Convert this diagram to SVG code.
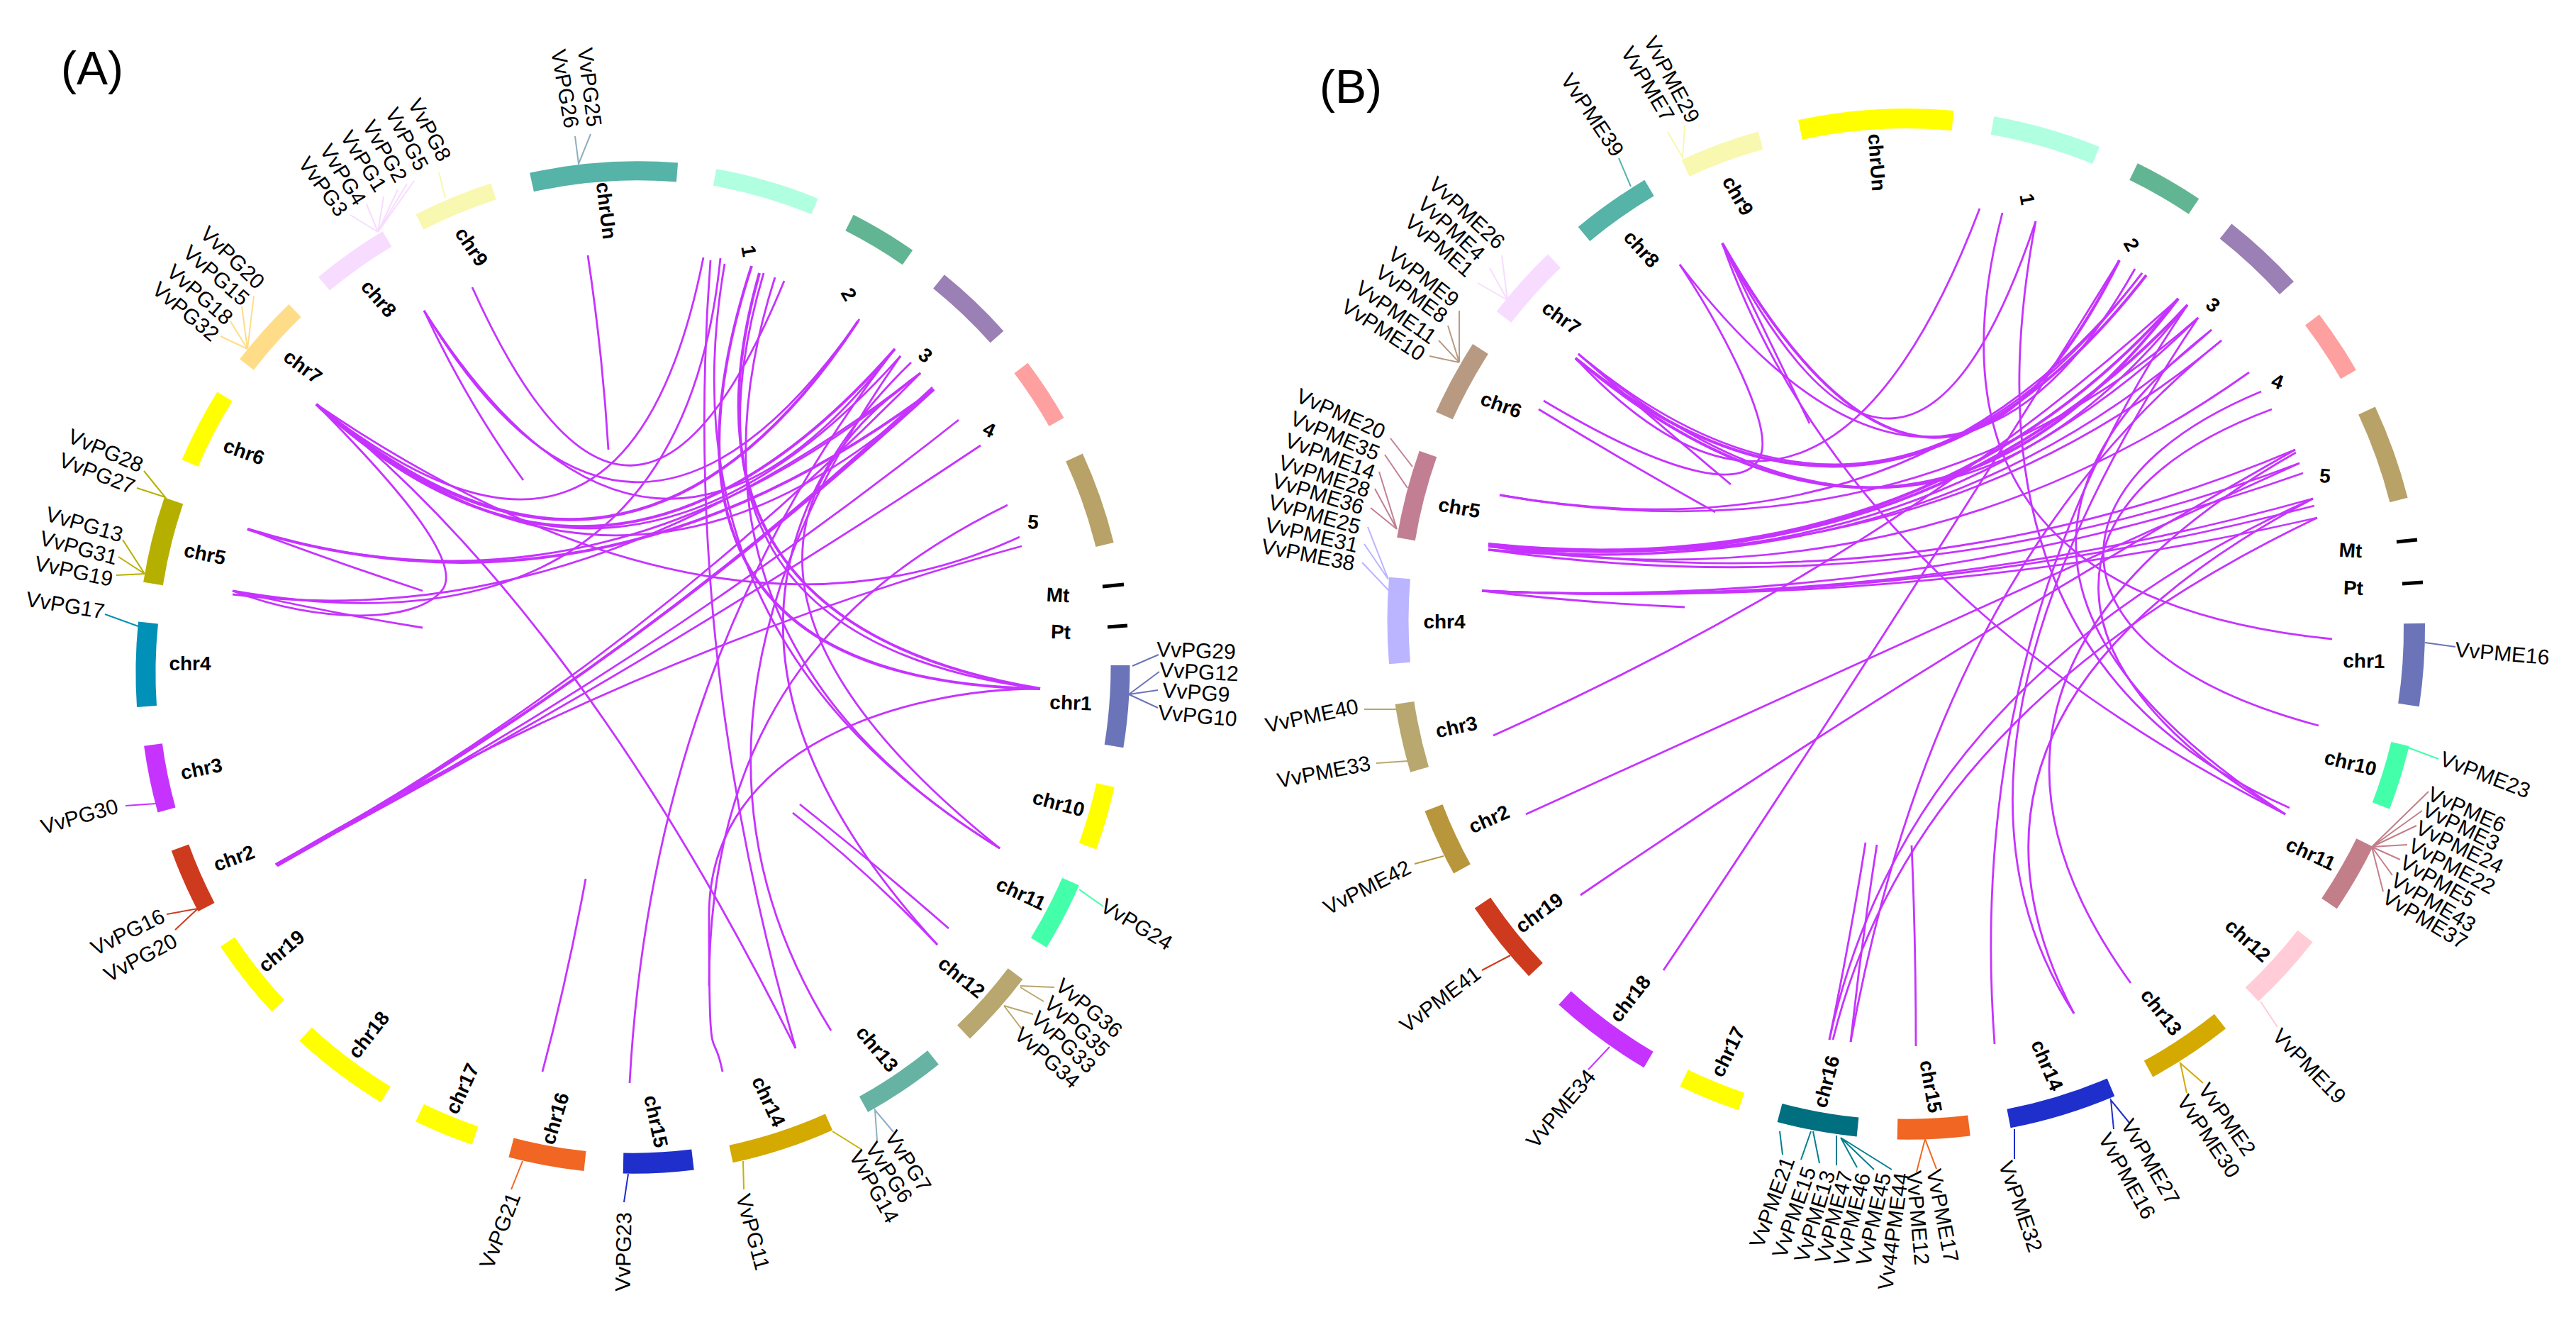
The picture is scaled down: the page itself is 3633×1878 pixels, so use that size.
<svg xmlns="http://www.w3.org/2000/svg" width="3633" height="1878" viewBox="0 0 3633 1878">
<style>
text{font-family:"Liberation Sans",Arial,sans-serif;fill:#000;text-anchor:middle;dominant-baseline:central}
.t{font-size:66px}
.c{font-size:28px;font-weight:bold}
.g{font-size:30px}
.s{fill:none}
.l{fill:none;stroke-width:2}
#linksA path,#linksB path{fill:none;stroke:#C633FF;stroke-width:2.8}
.h{stroke-width:4!important}
</style>
<rect width="3633" height="1878" fill="#fff"/>
<text class="t" x="130" y="96">(A)</text>
<text class="t" x="1905" y="122">(B)</text>
<g id="linksA">
<path d="M829 360Q850 500 858 634"/>
<path d="M666 405Q894 912 1106 396"/>
<path d="M598 438Q886 914 1210 453"/>
<path d="M598 438Q920 940 1262 492"/>
<path d="M598 438Q660 570 738 677"/>
<path d="M446 570Q882 918 992 363"/>
<path class="h" d="M446 570Q885 945 1210 453"/>
<path d="M450 575Q885 945 1212 450"/>
<path class="h" d="M446 570Q860 950 1262 492"/>
<path d="M448 572Q870 950 1270 502"/>
<path d="M446 570Q880 950 1317 549"/>
<path d="M446 570Q1012 954 1438 757"/>
<path d="M446 570C560 685 650 790 625 830C590 880 450 880 328 833"/>
<path d="M446 570Q815 860 1122 1478"/>
<path class="h" d="M349 746Q850 900 1317 549"/>
<path d="M349 746Q850 900 1298 526"/>
<path d="M349 746Q480 795 596 833"/>
<path d="M328 833Q470 865 596 885"/>
<path d="M328 833Q958 942 1016 364"/>
<path d="M328 838Q818 900 1298 526"/>
<path class="h" d="M389 1219Q880 950 1317 549"/>
<path d="M391 1221Q880 950 1315 546"/>
<path d="M389 1219Q880 950 1298 526"/>
<path d="M389 1219Q900 950 1352 592"/>
<path d="M389 1219Q900 950 1383 628"/>
<path d="M389 1219Q890 920 1441 770"/>
<path class="h" d="M1060 375Q870 960 1467 971"/>
<path class="h" d="M1071 385Q930 880 1467 971"/>
<path d="M1077 385Q925 900 1467 971"/>
<path d="M1022 372Q930 900 1410 1196"/>
<path d="M1093 391Q930 900 1410 1196"/>
<path d="M1298 526Q916 800 1410 1196"/>
<path d="M1285 511Q906 878 1322 1332"/>
<path d="M1270 502Q904 1022 1172 1453"/>
<path d="M1002 367Q960 920 1122 1478"/>
<path d="M888 1527Q920 930 1262 492"/>
<path d="M1421 712C1200 820 1000 1000 1000 1390"/>
<path d="M1467 971C1280 971 1000 1050 1000 1290S1005 1440 1019 1511"/>
<path d="M1128 1134Q1230 1215 1338 1309"/>
<path d="M1118 1146Q1220 1225 1322 1332"/>
<path d="M826 1239Q800 1380 765 1511"/>
</g>
<g id="linksB">
<path class="h" d="M2429 343Q2734 878 2989 367"/>
<path d="M2429 343Q2490 470 2552 597"/>
<path d="M2429 343Q2600 830 3223 1148"/>
<path d="M2871 312Q2690 852 2429 343"/>
<path d="M2369 373Q2742 856 3011 379"/>
<path d="M2369 373C2432 468 2500 600 2483 642C2465 690 2370 680 2177 565"/>
<path d="M2226 499Q2330 590 2441 683"/>
<path d="M2170 577Q2290 650 2419 722"/>
<path d="M2792 294Q2570 878 2222 505"/>
<path d="M2824 300Q2684 840 3289 901"/>
<path d="M2871 312Q2754 930 3229 1139"/>
<path d="M3204 577C2870 700 2880 950 3223 1148"/>
<path d="M3189 552C2880 680 2880 920 3270 1023"/>
<path d="M3119 465Q2690 800 3223 1148"/>
<path class="h" d="M2222 505Q2660 860 3027 388"/>
<path d="M2226 499Q2660 860 3021 385"/>
<path class="h" d="M2222 505Q2704 908 3072 421"/>
<path d="M2226 499Q2704 908 3085 430"/>
<path d="M2115 698Q2700 800 3100 448"/>
<path d="M2115 698Q2700 800 3021 385"/>
<path class="h" d="M2099 767Q2714 830 3072 421"/>
<path class="h" d="M2099 770Q2714 830 3085 430"/>
<path d="M2099 775Q2714 830 3119 465"/>
<path d="M2099 767Q2714 830 3133 480"/>
<path d="M2099 775Q2714 830 3100 448"/>
<path d="M2099 770Q2700 860 3172 525"/>
<path d="M2099 767Q2700 860 3237 634"/>
<path d="M2099 775Q2700 860 3243 653"/>
<path d="M2090 833Q2700 860 3248 667"/>
<path d="M2090 833Q2700 860 3262 703"/>
<path d="M2090 833Q2700 860 3264 713"/>
<path d="M2090 833Q2700 860 3268 730"/>
<path d="M2090 833Q2230 850 2376 856"/>
<path d="M2106 1037Q2680 780 3072 421"/>
<path d="M2152 1148Q2702 900 3243 653"/>
<path d="M2229 1262Q2728 922 3237 634"/>
<path d="M2346 1368Q2652 912 2989 367"/>
<path d="M2580 1466Q2610 1320 2631 1188"/>
<path d="M2610 1469Q2625 1330 2647 1191"/>
<path d="M2580 1466Q2690 960 3262 703"/>
<path d="M2585 1466Q2700 1000 3268 730"/>
<path d="M2610 1469Q2732 800 3133 480"/>
<path d="M2696 1192Q2702 1330 2702 1475"/>
<path d="M2813 1472Q2770 890 3085 430"/>
<path d="M2925 1429Q2688 1062 3100 448"/>
<path d="M2925 1429Q2700 1000 3262 703"/>
<path d="M3005 1386Q2690 950 3238 638"/>
</g>
<g id="A-chrUn"><path class="s" stroke="#55B3A8" stroke-width="27" d="M750 257A695 695 0 0 1 955 243"/><text class="c" transform="translate(855 297) rotate(83)">chrUn</text><path class="l" stroke="#8FAFC0" d="M811 192L816 231L833 189"/><text class="g" transform="translate(832 123) rotate(83)">VvPG25</text><text class="g" transform="translate(797 125) rotate(80)">VvPG26</text></g>
<g id="A-chr9"><path class="s" stroke="#F8F8B0" stroke-width="24" d="M592 313A695 695 0 0 1 696 270"/><text class="c" transform="translate(665 348) rotate(56)">chr9</text><path class="l" stroke="#F8F8B0" d="M619 243L628 279"/></g>
<g id="A-chr8"><path class="s" stroke="#F8DCFF" stroke-width="25" d="M457 400A695 695 0 0 1 546 337"/><text class="c" transform="translate(534 421) rotate(49)">chr8</text><path class="l" stroke="#F8DCFF" d="M533 327L584 255M533 327L574 259M533 327L561 267M533 327L541 277M533 327L517 288M533 327L494 303"/><text class="g" transform="translate(606 183) rotate(62)">VvPG8</text><text class="g" transform="translate(574 196) rotate(62)">VvPG5</text><text class="g" transform="translate(543 213) rotate(60)">VvPG2</text><text class="g" transform="translate(513 227) rotate(58)">VvPG1</text><text class="g" transform="translate(484 246) rotate(58)">VvPG4</text><text class="g" transform="translate(456 263) rotate(54)">VvPG3</text></g>
<g id="A-chr7"><path class="s" stroke="#FFDD88" stroke-width="25" d="M348 514A695 695 0 0 1 416 438"/><text class="c" transform="translate(427 517) rotate(37)">chr7</text><path class="l" stroke="#FFDD88" d="M349 492L358 417M349 492L341 432M349 492L325 453M349 492L311 474"/><text class="g" transform="translate(328 363) rotate(44)">VvPG20</text><text class="g" transform="translate(305 388) rotate(41)">VvPG15</text><text class="g" transform="translate(282 415) rotate(41)">VvPG18</text><text class="g" transform="translate(262 439) rotate(40)">VvPG32</text></g>
<g id="A-chr6"><path class="s" stroke="#FFFF00" stroke-width="25" d="M268 653A695 695 0 0 1 317 559"/><text class="c" transform="translate(344 637) rotate(20)">chr6</text></g>
<g id="A-chr5"><path class="s" stroke="#B5B000" stroke-width="28" d="M216 823A695 695 0 0 1 245 706"/><text class="c" transform="translate(289 781) rotate(12)">chr5</text><path class="l" stroke="#B5B000" d="M203 664L233 701L193 688M173 761L204 809L167 785M204 809L164 811"/><text class="g" transform="translate(149 635) rotate(23)">VvPG28</text><text class="g" transform="translate(137 667) rotate(21)">VvPG27</text><text class="g" transform="translate(119 739) rotate(16)">VvPG13</text><text class="g" transform="translate(111 772) rotate(15)">VvPG31</text><text class="g" transform="translate(104 805) rotate(12)">VvPG19</text></g>
<g id="A-chr4"><path class="s" stroke="#0090B8" stroke-width="28" d="M209 878A695 695 0 0 0 207 996"/><text class="c" x="268" y="935">chr4</text><path class="l" stroke="#0090B8" d="M148 866L195 883"/><text class="g" transform="translate(92 853) rotate(9.500)">VvPG17</text></g>
<g id="A-chr3"><path class="s" stroke="#C633FF" stroke-width="26" d="M216 1050A695 695 0 0 0 235 1142"/><text class="c" transform="translate(284 1084) rotate(-12)">chr3</text><path class="l" stroke="#C633FF" d="M177 1136L220 1133"/><text class="g" transform="translate(112 1151) rotate(-16)">VvPG30</text></g>
<g id="A-chr2"><path class="s" stroke="#CE3A1E" stroke-width="26" d="M254 1195A695 695 0 0 0 291 1279"/><text class="c" transform="translate(330 1210) rotate(-20)">chr2</text><path class="l" stroke="#CE3A1E" d="M235 1289L279 1281L247 1311"/><text class="g" transform="translate(180 1314) rotate(-26)">VvPG16</text><text class="g" transform="translate(198 1350) rotate(-28)">VvPG20</text></g>
<g id="A-chr19"><path class="s" stroke="#FFFF00" stroke-width="24" d="M321 1328A695 695 0 0 0 392 1418"/><text class="c" transform="translate(397 1341) rotate(-40)">chr19</text></g>
<g id="A-chr18"><path class="s" stroke="#FFFF00" stroke-width="26" d="M431 1458A695 695 0 0 0 544 1543"/><text class="c" transform="translate(520 1459) rotate(-52)">chr18</text></g>
<g id="A-chr17"><path class="s" stroke="#FFFF00" stroke-width="27" d="M592 1569A695 695 0 0 0 670 1601"/><text class="c" transform="translate(652 1535) rotate(-65)">chr17</text></g>
<g id="A-chr16"><path class="s" stroke="#F06622" stroke-width="28" d="M721 1618A695 695 0 0 0 825 1637"/><text class="c" transform="translate(783 1577) rotate(-73)">chr16</text><path class="l" stroke="#F06622" d="M721 1677L737 1637"/><text class="g" transform="translate(705 1735) rotate(-69)">VvPG21</text></g>
<g id="A-chr15"><path class="s" stroke="#1F2FCC" stroke-width="29" d="M879 1640A695 695 0 0 0 977 1635"/><text class="c" transform="translate(925 1581) rotate(78)">chr15</text><path class="l" stroke="#1F2FCC" d="M880 1695L886 1655"/><text class="g" transform="translate(879 1765) rotate(-89)">VvPG23</text></g>
<g id="A-chr14"><path class="s" stroke="#D4AA00" stroke-width="25" d="M1031 1627A695 695 0 0 0 1169 1582"/><text class="c" transform="translate(1084 1553) rotate(65)">chr14</text><path class="l" stroke="#C8B000" d="M1049 1677L1048 1637M1214 1620L1174 1595"/><text class="g" transform="translate(1062 1737) rotate(75)">VvPG11</text><text class="g" transform="translate(1233 1673) rotate(61)">VvPG14</text></g>
<g id="A-chr13"><path class="s" stroke="#66B3A3" stroke-width="25" d="M1218 1557A695 695 0 0 0 1316 1491"/><text class="c" transform="translate(1237 1479) rotate(50)">chr13</text><path class="l" stroke="#8FAFC0" d="M1260 1596L1234 1565L1237 1608"/><text class="g" transform="translate(1254 1653) rotate(57)">VvPG6</text><text class="g" transform="translate(1281 1637) rotate(58)">VvPG7</text></g>
<g id="A-chr12"><path class="s" stroke="#B8A76E" stroke-width="26" d="M1359 1455A695 695 0 0 0 1432 1373"/><text class="c" transform="translate(1356 1378) rotate(39)">chr12</text><path class="l" stroke="#B8A76E" d="M1439 1390L1487 1392M1439 1392L1472 1412M1416 1418L1457 1430M1416 1418L1441 1451"/><text class="g" transform="translate(1477 1491) rotate(42)">VvPG34</text><text class="g" transform="translate(1500 1469) rotate(43)">VvPG33</text><text class="g" transform="translate(1519 1447) rotate(42)">VvPG35</text><text class="g" transform="translate(1536 1421) rotate(40)">VvPG36</text></g>
<g id="A-chr11"><path class="s" stroke="#44FFAA" stroke-width="26" d="M1465 1329A695 695 0 0 0 1510 1243"/><text class="c" transform="translate(1440 1260) rotate(25)">chr11</text><path class="l" stroke="#44FFAA" d="M1522 1254L1556 1278"/><text class="g" transform="translate(1603 1303) rotate(31)">VvPG24</text></g>
<g id="A-chr10"><path class="s" stroke="#FFFF00" stroke-width="26" d="M1534 1193A695 695 0 0 0 1559 1107"/><text class="c" transform="translate(1493 1133) rotate(15)">chr10</text></g>
<g id="A-chr1"><path class="s" stroke="#6B74B8" stroke-width="27" d="M1571 1052A695 695 0 0 0 1580 938"/><text class="c" transform="translate(1510 991) rotate(2)">chr1</text><path class="l" stroke="#6B74B8" d="M1597 939L1634 923M1592 979L1635 947M1592 979L1633 973M1592 979L1633 998"/><text class="g" transform="translate(1687 917) rotate(2)">VvPG29</text><text class="g" transform="translate(1691 947) rotate(3)">VvPG12</text><text class="g" transform="translate(1687 976) rotate(4)">VvPG9</text><text class="g" transform="translate(1689 1009) rotate(5)">VvPG10</text></g>
<g id="A-1"><path class="s" stroke="#B0FFE0" stroke-width="24" d="M1008 250A695 695 0 0 1 1149 291"/><text class="c" transform="translate(1056 354) rotate(80)">1</text></g>
<g id="A-2"><path class="s" stroke="#62B592" stroke-width="25" d="M1198 314A695 695 0 0 1 1280 363"/><text class="c" transform="translate(1197 415) rotate(60)">2</text></g>
<g id="A-3"><path class="s" stroke="#9A80B5" stroke-width="25" d="M1324 397A695 695 0 0 1 1406 475"/><text class="c" transform="translate(1305 501) rotate(40)">3</text></g>
<g id="A-4"><path class="s" stroke="#FFA0A0" stroke-width="24" d="M1440 519A695 695 0 0 1 1490 595"/><text class="c" transform="translate(1395 606) rotate(25)">4</text></g>
<g id="A-5"><path class="s" stroke="#B8A268" stroke-width="26" d="M1515 645A695 695 0 0 1 1558 768"/><text class="c" transform="translate(1457 736) rotate(5)">5</text></g>
<g id="A-Mt"><path class="s" stroke="#000" stroke-width="5" d="M1555 827L1585 824"/><text class="c" transform="translate(1492 839) rotate(3)">Mt</text></g>
<g id="A-Pt"><path class="s" stroke="#000" stroke-width="5" d="M1562 884L1590 882"/><text class="c" transform="translate(1496 891) rotate(2)">Pt</text></g>

<g id="B-chrUn"><path class="s" stroke="#FFFF00" stroke-width="28" d="M2539 183A715 715 0 0 1 2754 170"/><text class="c" transform="translate(2647 229) rotate(86)">chrUn</text></g>
<g id="B-chr9"><path class="s" stroke="#F8F8B0" stroke-width="26" d="M2377 237A715 715 0 0 1 2483 198"/><text class="c" transform="translate(2451 276) rotate(60)">chr9</text><path class="l" stroke="#F8F8B0" d="M2352 186L2373 222L2376 177"/><text class="g" transform="translate(2358 112) rotate(62)">VvPME29</text><text class="g" transform="translate(2324 118) rotate(59)">VvPME7</text></g>
<g id="B-chr8"><path class="s" stroke="#55B3A8" stroke-width="26" d="M2234 330A715 715 0 0 1 2326 265"/><text class="c" transform="translate(2315 351) rotate(48)">chr8</text><path class="l" stroke="#55B3A8" d="M2283 223L2300 263"/><text class="g" transform="translate(2246 162) rotate(56)">VvPME39</text></g>
<g id="B-chr7"><path class="s" stroke="#F8DCFF" stroke-width="26" d="M2121 447A715 715 0 0 1 2192 368"/><text class="c" transform="translate(2202 448) rotate(36)">chr7</text><path class="l" stroke="#F8DCFF" d="M2126 423L2118 360M2126 423L2101 378M2126 423L2084 399"/><text class="g" transform="translate(2069 300) rotate(43)">VvPME26</text><text class="g" transform="translate(2047 322) rotate(43)">VvPME4</text><text class="g" transform="translate(2030 346) rotate(41)">VvPME1</text></g>
<g id="B-chr6"><path class="s" stroke="#B89A83" stroke-width="26" d="M2037 586A715 715 0 0 1 2088 492"/><text class="c" transform="translate(2117 571) rotate(20)">chr6</text><path class="l" stroke="#B89A83" d="M2058 511L2058 438M2058 511L2042 459M2058 511L2029 480M2058 511L2016 502"/><text class="g" transform="translate(2008 390) rotate(38)">VvPME9</text><text class="g" transform="translate(1991 414) rotate(36)">VvPME8</text><text class="g" transform="translate(1969 440) rotate(35)">VvPME11</text><text class="g" transform="translate(1951 465) rotate(33)">VvPME10</text></g>
<g id="B-chr5"><path class="s" stroke="#C27F93" stroke-width="26" d="M1983 760A715 715 0 0 1 2014 640"/><text class="c" transform="translate(2058 716) rotate(10)">chr5</text><path class="l" stroke="#C27F93" d="M1961 618L1992 658M1953 641L1985 688M1970 746L1945 665M1970 746L1939 689M1970 746L1933 716"/><text class="g" transform="translate(1891 583) rotate(24)">VvPME20</text><text class="g" transform="translate(1883 614) rotate(23)">VvPME35</text><text class="g" transform="translate(1876 643) rotate(21)">VvPME14</text><text class="g" transform="translate(1868 671) rotate(18)">VvPME28</text><text class="g" transform="translate(1859 696) rotate(17)">VvPME36</text></g>
<g id="B-chr4"><path class="s" stroke="#BBB4FF" stroke-width="30" d="M1974 815A715 715 0 0 0 1974 935"/><text class="c" x="2037" y="876">chr4</text><path class="l" stroke="#BBB4FF" d="M1958 817L1929 743M1958 817L1924 767M1959 833L1921 793"/><text class="g" transform="translate(1854 725) rotate(16)">VvPME25</text><text class="g" transform="translate(1850 754) rotate(13)">VvPME31</text><text class="g" transform="translate(1845 782) rotate(11)">VvPME38</text></g>
<g id="B-chr3"><path class="s" stroke="#B8A76E" stroke-width="27" d="M1981 991A715 715 0 0 0 2002 1085"/><text class="c" transform="translate(2054 1025) rotate(-12)">chr3</text><path class="l" stroke="#B8A76E" d="M1924 1000L1969 1000M1941 1076L1985 1073"/><text class="g" transform="translate(1850 1009) rotate(-12)">VvPME40</text><text class="g" transform="translate(1867 1088) rotate(-11)">VvPME33</text></g>
<g id="B-chr2"><path class="s" stroke="#B8963C" stroke-width="27" d="M2022 1139A715 715 0 0 0 2062 1225"/><text class="c" transform="translate(2100 1155) rotate(-24)">chr2</text><path class="l" stroke="#B8963C" d="M1995 1218L2036 1207"/><text class="g" transform="translate(1928 1251) rotate(-27)">VvPME42</text></g>
<g id="B-chr19"><path class="s" stroke="#CE3A1E" stroke-width="27" d="M2091 1273A715 715 0 0 0 2166 1367"/><text class="c" transform="translate(2171 1287) rotate(-36)">chr19</text><path class="l" stroke="#CE3A1E" d="M2090 1368L2130 1347"/><text class="g" transform="translate(2031 1409) rotate(-37)">VvPME41</text></g>
<g id="B-chr18"><path class="s" stroke="#C633FF" stroke-width="26" d="M2207 1407A715 715 0 0 0 2325 1494"/><text class="c" transform="translate(2299 1408) rotate(-52)">chr18</text><path class="l" stroke="#C633FF" d="M2240 1508L2270 1476"/><text class="g" transform="translate(2201 1563) rotate(-50)">VvPME34</text></g>
<g id="B-chr17"><path class="s" stroke="#FFFF00" stroke-width="26" d="M2375 1520A715 715 0 0 0 2456 1553"/><text class="c" transform="translate(2437 1483) rotate(-64)">chr17</text></g>
<g id="B-chr16"><path class="s" stroke="#006F7F" stroke-width="27" d="M2510 1569A715 715 0 0 0 2620 1589"/><text class="c" transform="translate(2576 1525) rotate(-75)">chr16</text><path class="l" stroke="#007F8F" d="M2514 1628L2510 1595M2540 1635L2554 1595M2566 1640L2557 1595M2590 1643L2590 1601M2596 1604L2619 1646M2596 1604L2643 1649M2596 1604L2668 1649"/><text class="g" transform="translate(2499 1695) rotate(-70)">VvPME21</text><text class="g" transform="translate(2530 1709) rotate(-71)">VvPME15</text><text class="g" transform="translate(2559 1715) rotate(-73)">VvPME13</text><text class="g" transform="translate(2586 1716) rotate(-75)">VvPME47</text><text class="g" transform="translate(2612 1719) rotate(-76)">VvPME46</text><text class="g" transform="translate(2642 1719) rotate(-77)">VvPME45</text><text class="g" transform="translate(2670 1736) rotate(-82)">Vv44PME44</text></g>
<g id="B-chr15"><path class="s" stroke="#F06622" stroke-width="29" d="M2676 1592A715 715 0 0 0 2777 1587"/><text class="c" transform="translate(2723 1532) rotate(80)">chr15</text><path class="l" stroke="#F06622" d="M2703 1652L2715 1606L2731 1648"/><text class="g" transform="translate(2705 1717) rotate(85)">VvPME12</text><text class="g" transform="translate(2740 1714) rotate(79)">VvPME17</text></g>
<g id="B-chr14"><path class="s" stroke="#1F2FCC" stroke-width="27" d="M2833 1577A715 715 0 0 0 2977 1533"/><text class="c" transform="translate(2887 1502) rotate(67)">chr14</text><path class="l" stroke="#1F2FCC" d="M2841 1592L2841 1634M3003 1583L2977 1551L2981 1592"/><text class="g" transform="translate(2850 1701) rotate(71)">VvPME32</text><text class="g" transform="translate(3000 1658) rotate(61)">VvPME16</text><text class="g" transform="translate(3033 1638) rotate(60)">VvPME27</text></g>
<g id="B-chr13"><path class="s" stroke="#D4AA00" stroke-width="26" d="M3030 1507A715 715 0 0 0 3131 1440"/><text class="c" transform="translate(3048 1427) rotate(52)">chr13</text><path class="l" stroke="#D4AA00" d="M3107 1527L3075 1499L3084 1541"/><text class="g" transform="translate(3115 1602) rotate(56)">VvPME30</text><text class="g" transform="translate(3141 1578) rotate(55)">VvPME2</text></g>
<g id="B-chr12"><path class="s" stroke="#FFCCD8" stroke-width="27" d="M3176 1402A715 715 0 0 0 3251 1320"/><text class="c" transform="translate(3170 1326) rotate(42)">chr12</text><path class="l" stroke="#FFCCD8" d="M3188 1412L3212 1448"/><text class="g" transform="translate(3257 1503) rotate(46)">VvPME19</text></g>
<g id="B-chr11"><path class="s" stroke="#C27F8A" stroke-width="26" d="M3285 1274A715 715 0 0 0 3335 1188"/><text class="c" transform="translate(3259 1204) rotate(25)">chr11</text><path class="l" stroke="#C27F8A" d="M3345 1194L3425 1116M3345 1194L3416 1143M3345 1194L3408 1164M3345 1194L3395 1191M3345 1194L3385 1212M3345 1194L3374 1234M3345 1194L3361 1257"/><text class="g" transform="translate(3479 1141) rotate(24)">VvPME6</text><text class="g" transform="translate(3471 1165) rotate(26)">VvPME3</text><text class="g" transform="translate(3469 1194) rotate(26)">VvPME24</text><text class="g" transform="translate(3458 1221) rotate(28)">VvPME22</text><text class="g" transform="translate(3438 1242) rotate(30)">VvPME5</text><text class="g" transform="translate(3432 1272) rotate(31)">VvPME43</text><text class="g" transform="translate(3420 1296) rotate(31)">VvPME37</text></g>
<g id="B-chr10"><path class="s" stroke="#44FFAA" stroke-width="26" d="M3358 1136A715 715 0 0 0 3385 1049"/><text class="c" transform="translate(3315 1076) rotate(14)">chr10</text><path class="l" stroke="#44FFAA" d="M3396 1054L3439 1070"/><text class="g" transform="translate(3505 1092) rotate(21)">VvPME23</text></g>
<g id="B-chr1"><path class="s" stroke="#6B74B8" stroke-width="30" d="M3397 994A715 715 0 0 0 3405 879"/><text class="c" transform="translate(3334 932) rotate(1)">chr1</text><path class="l" stroke="#6B74B8" d="M3420 906L3463 912"/><text class="g" transform="translate(3529 921) rotate(5)">VvPME16</text></g>
<g id="B-1"><path class="s" stroke="#B0FFE0" stroke-width="26" d="M2810 177A715 715 0 0 1 2956 219"/><text class="c" transform="translate(2859 281) rotate(80)">1</text></g>
<g id="B-2"><path class="s" stroke="#62B592" stroke-width="26" d="M3009 242A715 715 0 0 1 3094 291"/><text class="c" transform="translate(3006 345) rotate(60)">2</text></g>
<g id="B-3"><path class="s" stroke="#9A80B5" stroke-width="27" d="M3139 326A715 715 0 0 1 3225 406"/><text class="c" transform="translate(3121 430) rotate(40)">3</text></g>
<g id="B-4"><path class="s" stroke="#FFA0A0" stroke-width="25" d="M3261 451A715 715 0 0 1 3312 528"/><text class="c" transform="translate(3212 538) rotate(20)">4</text></g>
<g id="B-5"><path class="s" stroke="#B8A268" stroke-width="26" d="M3338 579A715 715 0 0 1 3383 705"/><text class="c" transform="translate(3279 671) rotate(5)">5</text></g>
<g id="B-Mt"><path class="s" stroke="#000" stroke-width="5" d="M3380 764L3409 761"/><text class="c" transform="translate(3315 776) rotate(3)">Mt</text></g>
<g id="B-Pt"><path class="s" stroke="#000" stroke-width="5" d="M3388 823L3417 821"/><text class="c" transform="translate(3319 829) rotate(2)">Pt</text></g>
</svg>
